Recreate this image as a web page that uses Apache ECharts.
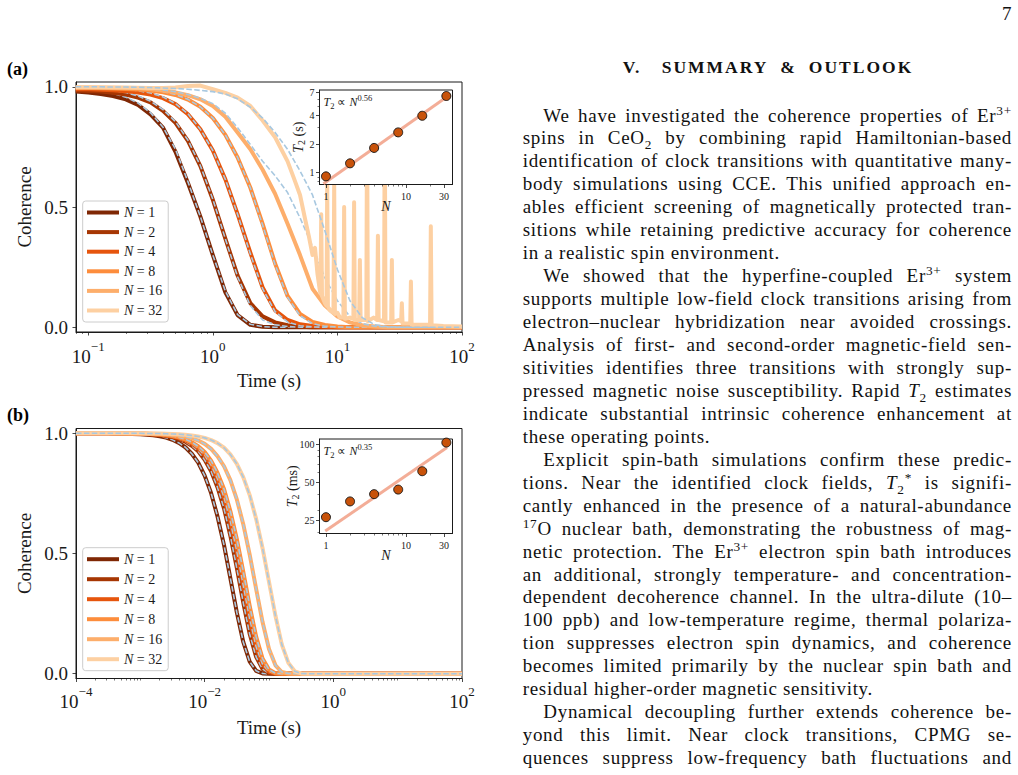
<!DOCTYPE html>
<html>
<head>
<meta charset="utf-8">
<title>Coherence vs time</title>
<script src="https://cdn.jsdelivr.net/npm/echarts@6/dist/echarts.min.js"></script>
<style>
  html, body { margin: 0; padding: 0; background: #fff; }
  #page { position: relative; width: 1018px; height: 775px; overflow: hidden; }
  #chart { position: absolute; left: 0; top: 0; width: 500px; height: 775px; }
  .ln { position: absolute; font-family: "Liberation Serif", serif; font-size: 19px; line-height: 22.95px; letter-spacing: 0.7px; color: #111; white-space: nowrap; }
  .j { display: flex; justify-content: space-between; }
  .ln sup, .ln sub { font-size: 0.7em; line-height: 0; }
  .hd { position: absolute; font-family: "Liberation Serif", serif; font-weight: bold; font-size: 17.5px; line-height: 20px; letter-spacing: 2px; color: #111; white-space: nowrap; }
</style>
</head>
<body>
<div id="page">
  <div id="chart"></div>
  <div id="text"></div>
</div>
<script>
// ---------- data ----------
const nValues = [1, 2, 4, 8, 16, 32];
const lineColors = ['#7f2704', '#a63603', '#e6550d', '#fd8d3c', '#fdae6b', '#fdd0a2'];

// panel (a): time grid in seconds
const timeA = [0.0794, 0.1, 0.126, 0.158, 0.2, 0.251, 0.316, 0.398, 0.501, 0.631, 0.794, 1, 1.26, 1.58, 2, 2.51,
  3.16, 3.98, 5.01, 6.31, 7.94, 10, 12.6, 15.8, 20, 25.1, 31.6, 39.8, 50.1, 63.1, 79.4, 100];
const simA1 = [0.98, 0.976, 0.97, 0.962, 0.948, 0.925, 0.885, 0.83, 0.73, 0.60, 0.46, 0.30, 0.145, 0.05, 0.01, 0.002,
  0, 0, 0, 0, 0, 0, 0, 0, 0, 0, 0, 0, 0, 0, 0, 0];
const simA2 = [0.985, 0.983, 0.98, 0.975, 0.968, 0.955, 0.935, 0.9, 0.85, 0.775, 0.67, 0.53, 0.368, 0.215, 0.1, 0.045,
  0.02, 0.008, 0.002, 0, 0, 0, 0, 0, 0, 0, 0, 0, 0, 0, 0, 0];
const simA4 = [0.99, 0.99, 0.988, 0.986, 0.982, 0.976, 0.968, 0.953, 0.928, 0.886, 0.823, 0.735, 0.615, 0.47, 0.31, 0.165,
  0.07, 0.03, 0.012, 0.005, 0.002, 0, 0, 0, 0, 0, 0, 0, 0, 0, 0, 0];
const simA8 = [0.995, 0.995, 0.994, 0.993, 0.991, 0.989, 0.985, 0.977, 0.966, 0.947, 0.917, 0.87, 0.80, 0.706, 0.58, 0.43,
  0.265, 0.13, 0.055, 0.022, 0.009, 0.003, 0, 0, 0, 0, 0, 0, 0, 0, 0, 0];
const simA16 = [0.997, 0.997, 0.996, 0.996, 0.995, 0.994, 0.99, 0.985, 0.977, 0.965, 0.948, 0.92, 0.875, 0.81, 0.74, 0.655,
  0.555, 0.43, 0.30, 0.16, 0.09, 0.045, 0.02, 0.008, 0.003, 0, 0, 0, 0, 0, 0, 0];
// N = 32 is noisy, so it has its own denser time list (narrow spikes past ~7 s)
const time32A = [0.0794, 0.1, 0.126, 0.158, 0.2, 0.251, 0.316, 0.398, 0.501, 0.631, 0.794, 1, 1.26, 1.58, 2, 2.51, 3.16, 3.98,
  4.47, 5.01, 5.5, 5.89, 6.31, 6.61, 6.92, 7.24, 7.31, 7.41, 7.52, 7.94, 8.17, 8.28, 8.39, 8.71, 9.29, 9.42, 9.55, 10,
  10.47, 11.17, 11.32, 11.48, 12.59, 13.43, 13.61, 13.8, 14.93, 15.14, 15.35, 17.06, 17.3, 17.54, 19.5, 20.85, 21.13,
  21.43, 23.66, 23.99, 24.32, 27.0, 27.35, 27.73, 30.9, 32.44, 32.89, 33.34, 38.4, 38.9, 39.4, 47.9, 55.4, 56.2, 57.0,
  70.8, 100];
const sim32A = [0.998, 0.998, 0.998, 0.997, 0.997, 0.996, 0.995, 0.995, 0.997, 1.003, 1.005, 0.99, 0.975, 0.955, 0.92, 0.86, 0.79, 0.69,
  0.62, 0.55, 0.45, 0.38, 0.30, 0.33, 0.22, 0.15, 0.14, 0.47, 0.13, 0.10, 0.09, 0.6, 0.085, 0.07, 0.06, 0.6, 0.055, 0.06,
  0.04, 0.04, 0.5, 0.035, 0.04, 0.035, 0.52, 0.03, 0.03, 0.28, 0.03, 0.03, 0.95, 0.025, 0.04, 0.03, 0.38,
  0.03, 0.025, 0.95, 0.02, 0.02, 0.28, 0.02, 0.03, 0.025, 0.1, 0.015, 0.015, 0.19, 0.01, 0.01, 0.01, 0.42, 0.008,
  0.005, 0.003];
const fitA1 = [0.992, 0.988, 0.982, 0.972, 0.957, 0.932, 0.892, 0.832, 0.74, 0.605, 0.46, 0.30, 0.15, 0.052, 0.012, 0.002,
  0, 0, 0, 0, 0, 0, 0, 0, 0, 0, 0, 0, 0, 0, 0, 0];
const fitA2 = [0.995, 0.993, 0.99, 0.985, 0.976, 0.962, 0.94, 0.905, 0.855, 0.778, 0.672, 0.532, 0.368, 0.21, 0.09, 0.03,
  0.01, 0.003, 0, 0, 0, 0, 0, 0, 0, 0, 0, 0, 0, 0, 0, 0];
const fitA4 = [0.998, 0.997, 0.995, 0.993, 0.99, 0.984, 0.974, 0.958, 0.93, 0.888, 0.823, 0.735, 0.615, 0.47, 0.305, 0.16,
  0.065, 0.022, 0.006, 0.001, 0, 0, 0, 0, 0, 0, 0, 0, 0, 0, 0, 0];
const fitA8 = [0.999, 0.999, 0.998, 0.997, 0.995, 0.993, 0.988, 0.98, 0.968, 0.948, 0.917, 0.87, 0.80, 0.706, 0.58, 0.425,
  0.26, 0.125, 0.048, 0.015, 0.004, 0.001, 0, 0, 0, 0, 0, 0, 0, 0, 0, 0];
const fitA16 = [1.0, 0.999, 0.999, 0.998, 0.997, 0.995, 0.992, 0.987, 0.98, 0.968, 0.952, 0.93, 0.89, 0.83, 0.76, 0.69,
  0.63, 0.56, 0.455, 0.336, 0.205, 0.11, 0.045, 0.015, 0.004, 0.001, 0, 0, 0, 0, 0, 0];
const fitA32 = [1.0, 1.0, 1.0, 0.999, 0.999, 0.998, 0.997, 0.995, 0.993, 0.99, 0.985, 0.98, 0.97, 0.95, 0.915, 0.87,
  0.81, 0.74, 0.65, 0.55, 0.40, 0.24, 0.11, 0.04, 0.01, 0.002, 0, 0, 0, 0, 0, 0];

// panel (b)
const timeB = [1e-4, 3.16e-4, 1e-3, 1.26e-3, 1.58e-3, 2e-3, 2.51e-3, 3.16e-3, 3.98e-3, 5.01e-3, 6.31e-3, 7.94e-3, 0.01,
  0.0126, 0.0158, 0.02, 0.0251, 0.0316, 0.0398, 0.0501, 0.0631, 0.0794, 0.1, 0.126, 0.158, 0.2, 0.251, 0.316, 0.398,
  0.501, 0.631, 1, 10, 100];
const simB1 = [1, 1, 0.996, 0.994, 0.992, 0.988, 0.982, 0.973, 0.96, 0.942, 0.915, 0.878, 0.824, 0.751, 0.655, 0.535,
  0.397, 0.255, 0.132, 0.05, 0.012, 0.001, 0, 0, 0, 0, 0, 0, 0, 0, 0, 0, 0, 0];
const simB2 = [1, 1, 0.998, 0.997, 0.995, 0.993, 0.989, 0.984, 0.976, 0.965, 0.948, 0.925, 0.89, 0.842, 0.776, 0.687,
  0.573, 0.44, 0.296, 0.165, 0.07, 0.019, 0.003, 0, 0, 0, 0, 0, 0, 0, 0, 0, 0, 0];
const simB4 = [1, 1, 0.998, 0.997, 0.996, 0.994, 0.991, 0.987, 0.98, 0.971, 0.957, 0.937, 0.909, 0.868, 0.811, 0.734,
  0.633, 0.509, 0.368, 0.228, 0.112, 0.039, 0.008, 0.001, 0, 0, 0, 0, 0, 0, 0, 0, 0, 0];
const simB8 = [1, 1, 0.998, 0.998, 0.996, 0.995, 0.992, 0.989, 0.983, 0.975, 0.963, 0.946, 0.922, 0.886, 0.836, 0.768,
  0.676, 0.561, 0.425, 0.282, 0.154, 0.063, 0.017, 0.002, 0, 0, 0, 0, 0, 0, 0, 0, 0, 0];
const simB16 = [1, 1, 0.999, 0.999, 0.998, 0.997, 0.996, 0.994, 0.991, 0.986, 0.98, 0.97, 0.956, 0.935, 0.905, 0.863,
  0.805, 0.725, 0.622, 0.495, 0.353, 0.215, 0.103, 0.035, 0.007, 0.001, 0, 0, 0, 0, 0, 0, 0, 0];
const simB32 = [1, 1, 1, 0.999, 0.999, 0.999, 0.998, 0.997, 0.996, 0.994, 0.991, 0.987, 0.981, 0.972, 0.959, 0.94,
  0.912, 0.873, 0.818, 0.743, 0.644, 0.522, 0.382, 0.241, 0.122, 0.045, 0.01, 0.001, 0, 0, 0, 0, 0, 0];
// in (b) the dashed fits sit on top of the simulated curves, same values

// insets: T2 against N
const t2A = [0.91, 1.25, 1.82, 2.66, 3.99, 6.46];      // seconds
const t2B = [26.4, 35.2, 40.2, 43.7, 61.1, 103];        // ms
const fitLineNA = [0.93, 32.6], fitLineT2A = [0.76, 6.35];
const fitLineNB = [0.98, 32.6], fitLineT2B = [20.5, 94];

// axis ranges and ticks
const xRangeA = [0.0797, 100], xRangeB = [1e-4, 100], yRange = [-0.02, 1.02];
const xMajorA = [0.1, 1, 10, 100], xMajorB = [1e-4, 1e-2, 1, 100];
const yMajor = [0, 0.5, 1];
const insetNRange = [0.83, 38.2], insetNMajor = [1, 10, 30], insetNMinor = [2, 3, 4, 5, 6, 7, 8, 9, 20];
const insetYRangeA = [0.746, 7.48], insetYMajorA = [1, 2, 4, 7], insetYMinorA = [0.8, 0.9, 3, 5, 6];
const insetYRangeB = [19.6, 110], insetYMajorB = [25, 50, 100], insetYMinorB = [20, 30, 40, 60, 70, 80, 90];

// ---------- helpers ----------
const FONT = 'Liberation Serif';
const INK = '#1a1a1a';
const FIT = '#a8c8e0';
const L10 = Math.log10;

function minorDecades(d0, d1, extra) {
  const out = [];
  for (let d = d0; d <= d1; d++) for (let m = 2; m <= 9; m++) out.push(d + L10(m));
  return out.concat(extra || []);
}
const powRich = {
  b: { fontFamily: FONT, fontSize: 19, lineHeight: 26, verticalAlign: 'bottom', color: INK },
  s: { fontFamily: FONT, fontSize: 13, lineHeight: 13, verticalAlign: 'top', color: INK }
};
const powLabel = v => { const e = Math.round(v); return '{b|10}{s|' + (e < 0 ? '\u2212' : '') + Math.abs(e) + '}'; };
const intLabel = v => String(Math.round(Math.pow(10, v)));

function axis(gridIndex, range, o) {
  const a = {
    type: 'value', gridIndex, min: range[0], max: range[1], z: o.z || 0,
    axisLine: { show: !o.minor, onZero: false, lineStyle: { color: INK, width: 1 } },
    axisTick: { show: true, customValues: o.ticks, length: o.minor ? 2 : 3.5, lineStyle: { color: INK, width: o.minor ? 0.6 : 0.8 } },
    axisLabel: o.minor ? { show: false } : {
      show: true, customValues: o.ticks, formatter: o.fmt, margin: o.margin, color: INK,
      fontFamily: FONT, fontSize: o.fs, rich: o.rich
    },
    splitLine: { show: false }
  };
  if (o.position) a.position = o.position;
  if (o.name) {
    a.name = o.name; a.nameLocation = 'middle'; a.nameGap = o.nameGap; a.nameMoveOverlap = false;
    if (o.nameRotate !== undefined) a.nameRotate = o.nameRotate;
    a.nameTextStyle = { fontFamily: FONT, fontSize: o.nameSize, color: INK, rich: o.nameRich };
  }
  return a;
}
const nameRich = {
  i: { fontFamily: FONT, fontStyle: 'italic', fontSize: 14, lineHeight: 17, verticalAlign: 'middle', color: INK },
  r: { fontFamily: FONT, fontSize: 14, lineHeight: 17, verticalAlign: 'middle', color: INK },
  s: { fontFamily: FONT, fontSize: 10, lineHeight: 8, verticalAlign: 'bottom', color: INK }
};
const nRich = { i: { fontFamily: FONT, fontStyle: 'italic', fontSize: 14, color: INK } };

function curve(name, times, vals, color, xi, yi) {
  return {
    type: 'line', name, xAxisIndex: xi, yAxisIndex: yi, color,
    data: times.map((t, i) => [L10(t), vals[i]]),
    showSymbol: false, symbol: 'none', silent: true, animation: false, z: 2,
    lineStyle: { width: 4, color, join: 'round' }
  };
}
function fitCurve(times, vals, xi, yi) {
  return {
    type: 'line', name: 'fit', xAxisIndex: xi, yAxisIndex: yi,
    data: times.map((t, i) => [L10(t), vals[i]]),
    showSymbol: false, symbol: 'none', silent: true, animation: false, z: 2,
    lineStyle: { width: 1.6, color: FIT, type: [5.5, 2.4] }
  };
}

// ---------- layout ----------
const gridA = { left: 76, top: 82, width: 386, height: 250 };
const gridB = { left: 76, top: 428.5, width: 386, height: 250 };
const insetA = { left: 319.5, top: 90, width: 133, height: 94.5 };
const insetB = { left: 319.5, top: 439, width: 133, height: 94.5 };
const gridBase = { show: true, borderColor: INK, borderWidth: 1, containLabel: false, outerBoundsMode: 'none' };

const names = nValues.map(n => 'N = ' + n);
const simsA = [simA1, simA2, simA4, simA8, simA16];
const fitsA = [fitA1, fitA2, fitA4, fitA8, fitA16, fitA32];
const simsB = [simB1, simB2, simB4, simB8, simB16, simB32];

const series = [];
nValues.forEach((n, k) => {
  if (k < 5) series.push(curve(names[k], timeA, simsA[k], lineColors[k], 0, 0));
  else series.push(curve(names[k], time32A, sim32A, lineColors[k], 0, 0));
  series.push(fitCurve(timeA, fitsA[k], 0, 0));
});
nValues.forEach((n, k) => {
  series.push(curve(names[k], timeB, simsB[k], lineColors[k], 4, 3));
  series.push(fitCurve(timeB, simsB[k], 4, 3));
});
function insetSeries(xi, yi, fitN, fitT, t2) {
  return [
    { type: 'line', xAxisIndex: xi, yAxisIndex: yi, data: fitN.map((n, i) => [L10(n), L10(fitT[i])]),
      showSymbol: false, symbol: 'none', silent: true, animation: false, z: 22,
      lineStyle: { width: 3, color: '#f2a48c', opacity: 0.9 } },
    { type: 'scatter', xAxisIndex: xi, yAxisIndex: yi, data: nValues.map((n, i) => [L10(n), L10(t2[i])]),
      symbolSize: 9, silent: true, animation: false, z: 23,
      itemStyle: { color: '#c8520a', borderColor: '#111', borderWidth: 0.9, opacity: 1 } }
  ];
}
series.push(...insetSeries(2, 1, fitLineNA, fitLineT2A, t2A));
series.push(...insetSeries(6, 4, fitLineNB, fitLineT2B, t2B));

const lr = v => [L10(v[0]), L10(v[1])];
const xAxes = [
  axis(0, lr(xRangeA), { ticks: xMajorA.map(L10), fmt: powLabel, rich: powRich, margin: 8, fs: 19,
    name: 'Time (s)', nameGap: 39, nameSize: 19 }),
  axis(0, lr(xRangeA), { minor: true, position: 'bottom', ticks: minorDecades(-2, 1) }),
  axis(1, lr(insetNRange), { z: 21, ticks: insetNMajor.map(L10), fmt: intLabel, margin: 7, fs: 10,
    name: '{i|N}', nameGap: 15, nameSize: 14, nameRich: nRich }),
  axis(1, lr(insetNRange), { z: 21, minor: true, position: 'bottom', ticks: insetNMinor.map(L10) }),
  axis(2, lr(xRangeB), { ticks: xMajorB.map(L10), fmt: powLabel, rich: powRich, margin: 6.5, fs: 19,
    name: 'Time (s)', nameGap: 39, nameSize: 19 }),
  axis(2, lr(xRangeB), { minor: true, position: 'bottom', ticks: minorDecades(-4, 1, [-3, -1, 1]) }),
  axis(3, lr(insetNRange), { z: 21, ticks: insetNMajor.map(L10), fmt: intLabel, margin: 7, fs: 10,
    name: '{i|N}', nameGap: 15, nameSize: 14, nameRich: nRich }),
  axis(3, lr(insetNRange), { z: 21, minor: true, position: 'bottom', ticks: insetNMinor.map(L10) })
];
const yAxes = [
  axis(0, yRange, { ticks: yMajor, fmt: v => v.toFixed(1), margin: 8, fs: 19,
    name: 'Coherence', nameGap: 42, nameSize: 19, nameRotate: 90 }),
  axis(1, lr(insetYRangeA), { z: 21, ticks: insetYMajorA.map(L10), fmt: intLabel, margin: 5, fs: 10,
    name: '{i|T}{s|2}{r| (s)}', nameGap: 13, nameSize: 14, nameRotate: 90, nameRich }),
  axis(1, lr(insetYRangeA), { z: 21, minor: true, position: 'left', ticks: insetYMinorA.map(L10) }),
  axis(2, yRange, { ticks: yMajor, fmt: v => v.toFixed(1), margin: 8, fs: 19,
    name: 'Coherence', nameGap: 42, nameSize: 19, nameRotate: 90 }),
  axis(3, lr(insetYRangeB), { z: 21, ticks: insetYMajorB.map(L10), fmt: intLabel, margin: 5, fs: 10,
    name: '{i|T}{s|2}{r| (ms)}', nameGap: 19, nameSize: 14, nameRotate: 90, nameRich }),
  axis(3, lr(insetYRangeB), { z: 21, minor: true, position: 'left', ticks: insetYMinorB.map(L10) })
];

function legendAt(top, gap) {
  return {
    data: names, orient: 'vertical', left: 82.7, top, icon: 'rect', itemWidth: 32, itemHeight: 4,
    itemGap: gap, itemTextGap: 10, padding: [3.5, 6, 3.5, 4.3], selectedMode: false,
    borderColor: '#cccccc', borderWidth: 1, borderRadius: 3, backgroundColor: 'rgba(255,255,255,0.8)', z: 10,
    formatter: nm => '{i|N} = ' + nm.split('= ')[1],
    textStyle: { fontFamily: FONT, fontSize: 14, lineHeight: 16, color: INK,
      rich: { i: { fontFamily: FONT, fontStyle: 'italic', fontSize: 14, lineHeight: 16, color: INK } } }
  };
}

const annRich = {
  i: { fontFamily: FONT, fontStyle: 'italic', fontSize: 12, lineHeight: 17, verticalAlign: 'middle', fill: INK },
  m: { fontFamily: FONT, fontSize: 12, lineHeight: 17, verticalAlign: 'middle', fill: INK },
  sb: { fontFamily: FONT, fontSize: 8.5, lineHeight: 8, verticalAlign: 'bottom', fill: INK },
  sp: { fontFamily: FONT, fontSize: 8.5, lineHeight: 8, verticalAlign: 'top', fill: INK }
};
function annotation(inset, expo) {
  return { type: 'text', x: inset.left + 4, y: inset.top + 3, z: 40,
    style: { text: '{i|T}{sb|2}{m| \u221d }{i|N}{sp|' + expo + '}', rich: annRich, fill: INK } };
}
function panelLabel(txt, y) {
  return { type: 'text', x: 7, y, z: 40,
    style: { text: txt, fontFamily: FONT, fontSize: 18, fontWeight: 'bold', fill: '#000' } };
}

const chart = echarts.init(document.getElementById('chart'), null, { renderer: 'svg' });
chart.setOption({
  animation: false,
  grid: [
    Object.assign({}, gridBase, gridA),
    Object.assign({}, gridBase, insetA, { backgroundColor: '#fff', z: 20 }),
    Object.assign({}, gridBase, gridB),
    Object.assign({}, gridBase, insetB, { backgroundColor: '#fff', z: 20 })
  ],
  xAxis: xAxes,
  yAxis: yAxes,
  legend: [legendAt(201, 3.6), legendAt(547.7, 4)],
  graphic: [
    panelLabel('(a)', 60), panelLabel('(b)', 406),
    annotation(insetA, '0.56'), annotation(insetB, '0.35')
  ],
  series
});

// ---------- right-hand text column ----------
const bodyLines = [
  [1, 1, 'We have investigated the coherence properties of Er<sup>3+</sup>'],
  [0, 1, 'spins in CeO<sub>2</sub> by combining rapid Hamiltonian-based'],
  [0, 1, 'identification of clock transitions with quantitative many-'],
  [0, 1, 'body simulations using CCE. This unified approach en-'],
  [0, 1, 'ables efficient screening of magnetically protected tran-'],
  [0, 1, 'sitions while retaining predictive accuracy for coherence'],
  [0, 0, 'in a realistic spin environment.'],
  [1, 1, 'We showed that the hyperfine-coupled Er<sup>3+</sup> system'],
  [0, 1, 'supports multiple low-field clock transitions arising from'],
  [0, 1, 'electron\u2013nuclear hybridization near avoided crossings.'],
  [0, 1, 'Analysis of first- and second-order magnetic-field sen-'],
  [0, 1, 'sitivities identifies three transitions with strongly sup-'],
  [0, 1, 'pressed magnetic noise susceptibility. Rapid <i>T</i><sub>2</sub> estimates'],
  [0, 1, 'indicate substantial intrinsic coherence enhancement at'],
  [0, 0, 'these operating points.'],
  [1, 1, 'Explicit spin-bath simulations confirm these predic-'],
  [0, 1, 'tions. Near the identified clock fields, <i>T</i><sub>2</sub><sup>*</sup> is signifi-'],
  [0, 1, 'cantly enhanced in the presence of a natural-abundance'],
  [0, 1, '<sup>17</sup>O nuclear bath, demonstrating the robustness of mag-'],
  [0, 1, 'netic protection. The Er<sup>3+</sup> electron spin bath introduces'],
  [0, 1, 'an additional, strongly temperature- and concentration-'],
  [0, 1, 'dependent decoherence channel. In the ultra-dilute (10\u2013'],
  [0, 1, '100 ppb) and low-temperature regime, thermal polariza-'],
  [0, 1, 'tion suppresses electron spin dynamics, and coherence'],
  [0, 1, 'becomes limited primarily by the nuclear spin bath and'],
  [0, 0, 'residual higher-order magnetic sensitivity.'],
  [1, 1, 'Dynamical decoupling further extends coherence be-'],
  [0, 1, 'yond this limit. Near clock transitions, CPMG se-'],
  [0, 1, 'quences suppress low-frequency bath fluctuations and']
];
const textBox = document.getElementById('text');
const TEXT_LEFT = 522.7, TEXT_W = 489.3, INDENT = 20.6, TEXT_TOP = 104.5, LINE_H = 22.95;
bodyLines.forEach((ln, k) => {
  const d = document.createElement('div');
  d.className = 'ln' + (ln[1] ? ' j' : '');
  const ind = ln[0] ? INDENT : 0;
  d.style.left = (TEXT_LEFT + ind) + 'px';
  d.style.width = (TEXT_W - ind) + 'px';
  d.style.top = (TEXT_TOP + k * LINE_H) + 'px';
  d.innerHTML = ln[1]
    ? ln[2].split(' ').filter(Boolean).map(w => '<span>' + w + '</span>').join('')
    : ln[2];
  textBox.appendChild(d);
});
const heads = [
  ['hd', 622.7, 56.6, null, 'V.'],
  ['hd j', 661.7, 56.6, 251.6, '<span>SUMMARY</span><span>&amp;</span><span>OUTLOOK</span>']
];
heads.forEach(h => {
  const d = document.createElement('div');
  d.className = h[0];
  d.style.left = h[1] + 'px';
  d.style.top = h[2] + 'px';
  if (h[3]) d.style.width = h[3] + 'px';
  d.innerHTML = h[4];
  textBox.appendChild(d);
});
const pg = document.createElement('div');
pg.className = 'ln';
pg.style.left = '1002px';
pg.style.top = '3.4px';
pg.textContent = '7';
textBox.appendChild(pg);
</script>
</body>
</html>
